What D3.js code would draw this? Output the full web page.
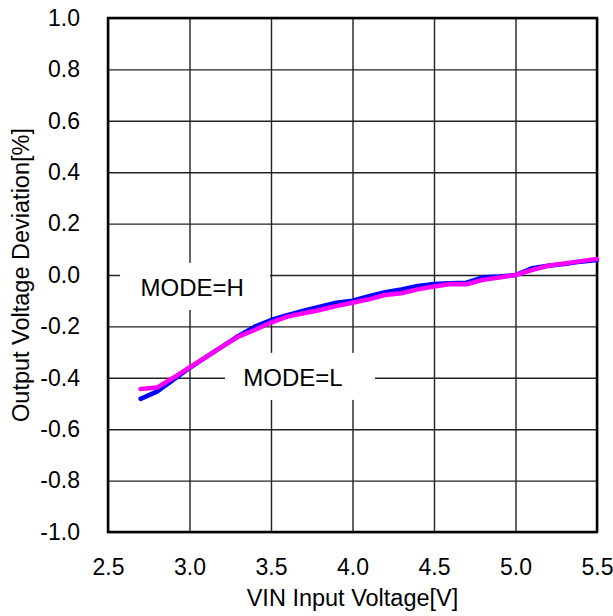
<!DOCTYPE html>
<html>
<head>
<meta charset="utf-8">
<script src="https://cdn.jsdelivr.net/npm/d3@7"></script>
<style>
  body { margin: 0; background: #fff; }
  svg text { font-family: "Liberation Sans", Arial, sans-serif; fill: #000; }
</style>
</head>
<body>
<div id="chart"></div>
<script>
// input voltage [V]
var vin = [ 2.7, 2.8, 2.9, 3.0, 3.1, 3.2, 3.3, 3.4, 3.5, 3.6, 3.7, 3.8, 3.9, 4.0,
	4.1, 4.2, 4.3, 4.4, 4.5, 4.6, 4.7, 4.8, 4.9, 5.0, 5.1, 5.2, 5.3, 5.4, 5.5 ];

// output voltage deviation [%], MODE=H (blue)
var modeH = [ -0.482, -0.454, -0.408, -0.362, -0.320, -0.279, -0.237, -0.201, -0.175,
	-0.156, -0.139, -0.123, -0.108, -0.100, -0.082, -0.067, -0.056, -0.043, -0.035,
	-0.032, -0.030, -0.009, -0.006, 0.000, 0.026, 0.036, 0.043, 0.052, 0.058 ];

// output voltage deviation [%], MODE=L (magenta)
var modeL = [ -0.444, -0.438, -0.400, -0.360, -0.320, -0.279, -0.240, -0.214, -0.185,
	-0.162, -0.149, -0.136, -0.121, -0.108, -0.095, -0.078, -0.071, -0.056, -0.045,
	-0.035, -0.036, -0.019, -0.010, 0.000, 0.019, 0.036, 0.045, 0.054, 0.062 ];

var xTicks = [ 2.5, 3.0, 3.5, 4.0, 4.5, 5.0, 5.5 ];
var yTicks = [ 1.0, 0.8, 0.6, 0.4, 0.2, 0.0, -0.2, -0.4, -0.6, -0.8, -1.0 ];

var width = 613, height = 616;
var margin = { left: 108, right: 16, top: 18, bottom: 84 };

// plain hyphen for negatives, like the original
var fmt = d => d.toFixed( 1 );

var xScale = d3.scaleLinear()
	.domain( [ 2.5, 5.5 ] )
	.range( [ margin.left, width - margin.right ] );

var yScale = d3.scaleLinear()
	.domain( [ -1.0, 1.0 ] )
	.range( [ height - margin.bottom, margin.top ] );

var svg = d3.select( "#chart" ).append( "svg" )
	.attr( "width", width )
	.attr( "height", height );

// grid
svg.append( "g" )
	.attr( "transform", `translate(0, ${ height - margin.bottom })` )
	.call( d3.axisBottom( xScale ).tickValues( xTicks )
		.tickSize( -( height - margin.bottom - margin.top ) ).tickFormat( '' ) )
	.call( g => g.select( ".domain" ).remove() )
	.selectAll( "line" )
	.attr( "stroke", "#222" )
	.attr( "stroke-width", 1.4 );

svg.append( "g" )
	.attr( "transform", `translate( ${ margin.left }, 0 )` )
	.call( d3.axisLeft( yScale ).tickValues( yTicks )
		.tickSize( -( width - margin.left - margin.right ) ).tickFormat( '' ) )
	.call( g => g.select( ".domain" ).remove() )
	.selectAll( "line" )
	.attr( "stroke", "#222" )
	.attr( "stroke-width", 1.4 );

// label boxes (white, cover the grid)
var labels = [
	{ text: "MODE=H", x0: 2.574, x1: 3.494, y0: 0.047, y1: -0.136, tx: 2.70, ty: -0.05 },
	{ text: "MODE=L", x0: 3.218, x1: 4.138, y0: -0.303, y1: -0.486, tx: 3.33, ty: -0.40 }
];

svg.selectAll( ".lbox" )
	.data( labels )
	.enter()
	.append( "rect" )
	.attr( "x", d => xScale( d.x0 ) )
	.attr( "y", d => yScale( d.y0 ) )
	.attr( "width", d => xScale( d.x1 ) - xScale( d.x0 ) )
	.attr( "height", d => yScale( d.y1 ) - yScale( d.y0 ) )
	.attr( "fill", "#fff" );

svg.selectAll( ".ltext" )
	.data( labels )
	.enter()
	.append( "text" )
	.attr( "x", d => xScale( d.tx ) )
	.attr( "y", d => yScale( d.ty ) )
	.attr( "dy", "0.35em" )
	.style( "font-size", "24px" )
	.text( d => d.text );

// frame
svg.append( "rect" )
	.attr( "x", margin.left )
	.attr( "y", margin.top )
	.attr( "width", width - margin.left - margin.right )
	.attr( "height", height - margin.top - margin.bottom )
	.attr( "fill", "none" )
	.attr( "stroke", "#000" )
	.attr( "stroke-width", 2.5 );

// tick labels
svg.append( "g" )
	.attr( "transform", `translate(0, ${ height - margin.bottom })` )
	.call( d3.axisBottom( xScale ).tickValues( xTicks ).tickSize( 0 ).tickPadding( 27 )
		.tickFormat( fmt ) )
	.call( g => g.select( ".domain" ).remove() )
	.selectAll( "text" )
	.style( "font-size", "23px" )
	.attr( "font-family", null );

svg.append( "g" )
	.attr( "transform", `translate( ${ margin.left }, 0 )` )
	.call( d3.axisLeft( yScale ).tickValues( yTicks ).tickSize( 0 ).tickPadding( 28 )
		.tickFormat( fmt ) )
	.call( g => g.select( ".domain" ).remove() )
	.selectAll( "text" )
	.style( "font-size", "23px" )
	.attr( "font-family", null );

// axis titles
svg.append( "text" )
	.attr( "x", xScale( 4.0 ) )
	.attr( "y", height - 10 )
	.attr( "text-anchor", "middle" )
	.style( "font-size", "23.5px" )
	.text( "VIN Input Voltage[V]" );

svg.append( "text" )
	.attr( "transform", "rotate(-90)" )
	.attr( "x", -yScale( 0.0 ) )
	.attr( "y", 29 )
	.attr( "text-anchor", "middle" )
	.style( "font-size", "23.5px" )
	.text( "Output Voltage Deviation[%]" );

// series
var series = [
	{ name: "MODE=H", values: modeH, color: "#0000ff" },
	{ name: "MODE=L", values: modeL, color: "#ff00ff" }
];

var line = d3.line()
	.x( ( d, i ) => xScale( vin[ i ] ) )
	.y( d => yScale( d ) );

svg.selectAll( ".series" )
	.data( series )
	.enter()
	.append( "path" )
	.attr( "fill", "none" )
	.attr( "stroke", d => d.color )
	.attr( "stroke-width", 4.5 )
	.attr( "stroke-linejoin", "round" )
	.attr( "stroke-linecap", "round" )
	.attr( "d", d => line( d.values ) );
</script>
</body>
</html>
